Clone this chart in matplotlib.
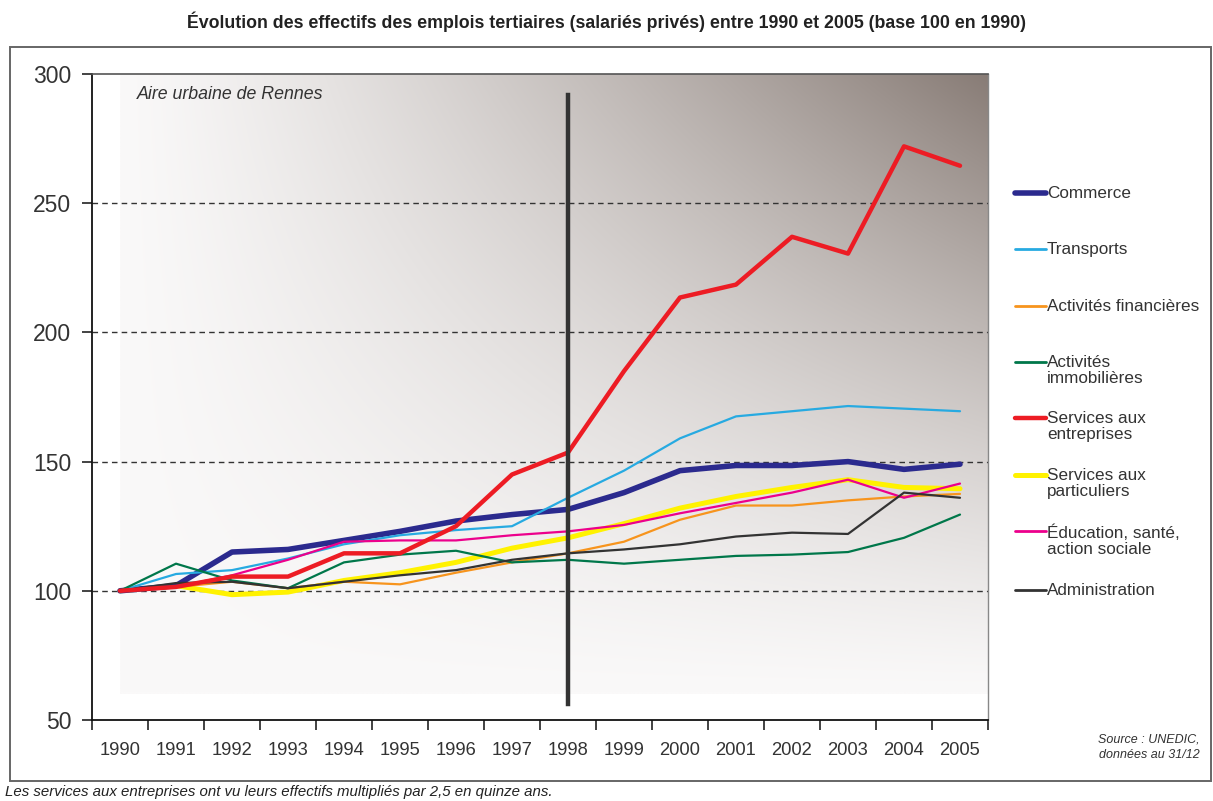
import numpy as np
import matplotlib.pyplot as plt
from matplotlib.lines import Line2D
from matplotlib.patches import Rectangle

W, H = 1213, 801
plt.rcParams['font.family'] = ['Liberation Sans', 'DejaVu Sans']

years = list(range(1990, 2006))

# indices base 100 en 1990
commerce = [100, 102, 115, 116, 119.5, 123, 127, 129.5, 131.5, 138, 146.5, 148.5, 148.5, 150, 147, 149]
transports = [100, 106.5, 108, 112.5, 118, 121.5, 123.5, 125, 136, 146.5, 159, 167.5, 169.5, 171.5, 170.5, 169.5]
financieres = [100, 101.5, 103.5, 101, 103.5, 102.5, 107, 111, 114.5, 119, 127.5, 133, 133, 135, 136.5, 137.5]
immobilieres = [100, 110.5, 104, 101, 111, 114, 115.5, 111, 112, 110.5, 112, 113.5, 114, 115, 120.5, 129.5]
serv_entreprises = [100, 101.5, 105.5, 105.5, 114.5, 114.5, 125, 145, 153.5, 185, 213.5, 218.5, 237, 230.5, 272, 264.5]
serv_particuliers = [100, 102, 98.5, 99.5, 104, 107, 111, 116.5, 120.5, 126, 132, 136.5, 140, 143, 140, 139.5]
education = [100, 101.5, 106, 112, 119, 119.5, 119.5, 121.5, 123, 125.5, 130, 134, 138, 143, 136, 141.5]
administration = [100, 103, 103.5, 101, 103.5, 106, 108, 112, 114.5, 116, 118, 121, 122.5, 122, 138, 136]

labels = ['Commerce', 'Transports', 'Activités financières', 'Activités\nimmobilières',
          'Services aux\nentreprises', 'Services aux\nparticuliers',
          'Éducation, santé,\naction sociale', 'Administration']
series = [commerce, transports, financieres, immobilieres,
          serv_entreprises, serv_particuliers, education, administration]
colors = ['#2b2a8e', '#27aae1', '#f7941d', '#00774a', '#ed1c24', '#fff200', '#ec008c', '#333333']
widths = [4.0, 1.6, 1.6, 1.6, 3.2, 3.6, 1.6, 1.6]
zorders = [4, 5, 5, 5, 7, 3, 6, 6]

yticks = [50, 100, 150, 200, 250, 300]
marker_year = 1998


def fx(px):
    return px / W


def fy(py):
    return 1 - py / H


fig = plt.figure(figsize=(W / 100, H / 100), dpi=100)
ax = fig.add_axes([fx(92), fy(720), fx(988) - fx(92), fy(74) - fy(720)])

ax.set_xlim(1989.5, 2005.5)
ax.set_ylim(50, 300)

# fond degrade : clair a gauche et en bas, fonce en haut a droite
nx, ny = 300, 200
u = np.linspace(0, 1, nx)[None, :]
v = np.linspace(0, 1, ny)[:, None]
d = (u * v) ** 1.2
light = np.array([250, 249, 249]) / 255
dark = np.array([136, 124, 118]) / 255
img = light[None, None, :] + (dark - light)[None, None, :] * d[:, :, None]
ax.imshow(img, extent=(1990, 2005.5, 60, 300), origin='lower', aspect='auto',
          zorder=0, interpolation='bilinear')

for yv in yticks[1:-1]:
    ax.axhline(yv, color='#333333', lw=1, ls=(0, (4, 3)), zorder=1)

for vals, col, lw, zo in zip(series, colors, widths, zorders):
    ax.plot(years, vals, color=col, lw=lw, zorder=zo, solid_capstyle='round',
            solid_joinstyle='round')

ax.plot([marker_year, marker_year], [56, 292], color='#333333', lw=3.2, zorder=8)

ax.text(1990.3, 292, 'Aire urbaine de Rennes', fontsize=12.8, style='italic',
        color='#333333', va='center', ha='left', zorder=9)

ax.set_yticks(yticks)
ax.set_yticklabels([str(t) for t in yticks], fontsize=16.5, color='#333333')
ax.set_xticks(years)
ax.set_xticklabels([str(y) for y in years], fontsize=13.2, color='#333333')
ax.set_xticks([y - 0.5 for y in years] + [2005.5], minor=True)
ax.tick_params(axis='x', which='major', length=0, pad=16)
ax.tick_params(axis='x', which='minor', length=7, width=1.2, color='#222222')
ax.tick_params(axis='y', length=7, width=1.2, color='#222222', pad=8)

for side in ['left', 'bottom']:
    ax.spines[side].set_color('#111111')
    ax.spines[side].set_linewidth(1.3)
ax.spines['top'].set_color('#555555')
ax.spines['top'].set_linewidth(1.2)
ax.spines['right'].set_color('#888888')
ax.spines['right'].set_linewidth(1.0)

# legende a droite
legend_y = [193, 249, 306, 362, 418, 475, 531, 590]
for lab, col, lw, py in zip(labels, colors, widths, legend_y):
    fig.add_artist(Line2D([fx(1015), fx(1046)], [fy(py), fy(py)], color=col,
                          lw=max(lw, 2.0), solid_capstyle='round'))
    fig.text(fx(1047), fy(py - 7), lab, fontsize=12.3, color='#333333',
             va='top', ha='left', linespacing=1.12)

# cadre
fig.add_artist(Rectangle((fx(10), fy(781)), fx(1211) - fx(10), fy(47) - fy(781),
                         transform=fig.transFigure, fill=False,
                         edgecolor='#666666', lw=1.4))

fig.text(0.5, fy(22), 'Évolution des effectifs des emplois tertiaires (salariés privés) '
         'entre 1990 et 2005 (base 100 en 1990)',
         ha='center', va='center', fontsize=12.8, color='#222222',
         family=['Liberation Sans Narrow', 'Liberation Sans', 'DejaVu Sans'],
         fontweight='bold')

fig.text(fx(1200), fy(747), 'Source : UNEDIC,\ndonnées au 31/12', ha='right', va='center',
         fontsize=9, style='italic', color='#333333', linespacing=1.4)

fig.text(fx(5), fy(792), 'Les services aux entreprises ont vu leurs effectifs multipliés '
         'par 2,5 en quinze ans.', ha='left', va='center', fontsize=10.8,
         style='italic', color='#222222')

fig.savefig('out.png', dpi=100)
